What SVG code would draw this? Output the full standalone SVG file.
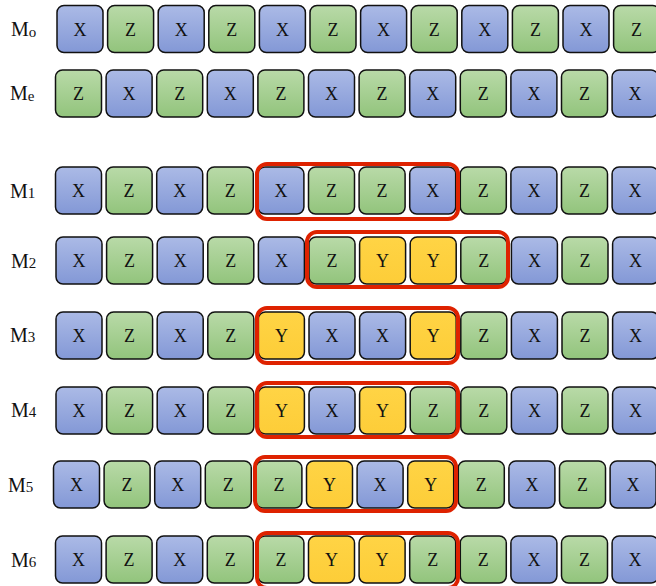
<svg xmlns="http://www.w3.org/2000/svg" width="656" height="586" viewBox="0 0 656 586" font-family="'Liberation Serif', 'Times New Roman', serif">
<defs>
<linearGradient id="gX" x1="0" y1="0" x2="0" y2="1"><stop offset="0" stop-color="#abbae6"/><stop offset="1" stop-color="#8398d6"/></linearGradient>
<linearGradient id="gZ" x1="0" y1="0" x2="0" y2="1"><stop offset="0" stop-color="#b9daa8"/><stop offset="1" stop-color="#92c47c"/></linearGradient>
<linearGradient id="gY" x1="0" y1="0" x2="0" y2="1"><stop offset="0" stop-color="#ffd445"/><stop offset="1" stop-color="#fdcd38"/></linearGradient>
<style>
text{font-family:'Liberation Serif','Times New Roman',serif;fill:#111}
.c rect{stroke:#111;stroke-width:1.5}
.X rect{fill:url(#gX)}
.Z rect{fill:url(#gZ)}
.Y rect{fill:url(#gY)}
.c text{font-size:18px;text-anchor:middle}
.lbl{font-size:20px}
.lbl tspan{font-size:15px}
.hl{fill:none;stroke:#de2200;stroke-width:4}
</style>
</defs>
<rect width="656" height="586" fill="#fff"/>
<g id="labels">
<text class="lbl" x="11" y="36">M<tspan dy="1">o</tspan></text>
<text class="lbl" x="10" y="100">M<tspan dy="1">e</tspan></text>
<text class="lbl" x="10" y="198">M<tspan>1</tspan></text>
<text class="lbl" x="11" y="268">M<tspan>2</tspan></text>
<text class="lbl" x="10" y="342">M<tspan>3</tspan></text>
<text class="lbl" x="11" y="417">M<tspan>4</tspan></text>
<text class="lbl" x="8" y="492">M<tspan>5</tspan></text>
<text class="lbl" x="11" y="567">M<tspan>6</tspan></text>
</g>
<g id="row-Mo" transform="translate(57,5.5)">
<g id="mo1" class="c X" transform="translate(0,0)"><rect width="46" height="47" rx="7"/><text x="23" y="30">X</text></g>
<g id="mo2" class="c Z" transform="translate(50.6,0)"><rect width="46" height="47" rx="7"/><text x="23" y="30">Z</text></g>
<g id="mo3" class="c X" transform="translate(101.2,0)"><rect width="46" height="47" rx="7"/><text x="23" y="30">X</text></g>
<g id="mo4" class="c Z" transform="translate(151.8,0)"><rect width="46" height="47" rx="7"/><text x="23" y="30">Z</text></g>
<g id="mo5" class="c X" transform="translate(202.4,0)"><rect width="46" height="47" rx="7"/><text x="23" y="30">X</text></g>
<g id="mo6" class="c Z" transform="translate(253,0)"><rect width="46" height="47" rx="7"/><text x="23" y="30">Z</text></g>
<g id="mo7" class="c X" transform="translate(303.6,0)"><rect width="46" height="47" rx="7"/><text x="23" y="30">X</text></g>
<g id="mo8" class="c Z" transform="translate(354.2,0)"><rect width="46" height="47" rx="7"/><text x="23" y="30">Z</text></g>
<g id="mo9" class="c X" transform="translate(404.8,0)"><rect width="46" height="47" rx="7"/><text x="23" y="30">X</text></g>
<g id="mo10" class="c Z" transform="translate(455.4,0)"><rect width="46" height="47" rx="7"/><text x="23" y="30">Z</text></g>
<g id="mo11" class="c X" transform="translate(506,0)"><rect width="46" height="47" rx="7"/><text x="23" y="30">X</text></g>
<g id="mo12" class="c Z" transform="translate(556.6,0)"><rect width="46" height="47" rx="7"/><text x="23" y="30">Z</text></g>
</g>
<g id="row-Me" transform="translate(55.5,70)">
<g id="me1" class="c Z" transform="translate(0,0)"><rect width="46" height="47" rx="7"/><text x="23" y="30">Z</text></g>
<g id="me2" class="c X" transform="translate(50.6,0)"><rect width="46" height="47" rx="7"/><text x="23" y="30">X</text></g>
<g id="me3" class="c Z" transform="translate(101.2,0)"><rect width="46" height="47" rx="7"/><text x="23" y="30">Z</text></g>
<g id="me4" class="c X" transform="translate(151.8,0)"><rect width="46" height="47" rx="7"/><text x="23" y="30">X</text></g>
<g id="me5" class="c Z" transform="translate(202.4,0)"><rect width="46" height="47" rx="7"/><text x="23" y="30">Z</text></g>
<g id="me6" class="c X" transform="translate(253,0)"><rect width="46" height="47" rx="7"/><text x="23" y="30">X</text></g>
<g id="me7" class="c Z" transform="translate(303.6,0)"><rect width="46" height="47" rx="7"/><text x="23" y="30">Z</text></g>
<g id="me8" class="c X" transform="translate(354.2,0)"><rect width="46" height="47" rx="7"/><text x="23" y="30">X</text></g>
<g id="me9" class="c Z" transform="translate(404.8,0)"><rect width="46" height="47" rx="7"/><text x="23" y="30">Z</text></g>
<g id="me10" class="c X" transform="translate(455.4,0)"><rect width="46" height="47" rx="7"/><text x="23" y="30">X</text></g>
<g id="me11" class="c Z" transform="translate(506,0)"><rect width="46" height="47" rx="7"/><text x="23" y="30">Z</text></g>
<g id="me12" class="c X" transform="translate(556.6,0)"><rect width="46" height="47" rx="7"/><text x="23" y="30">X</text></g>
</g>
<g id="row-M1" transform="translate(55.5,167)">
<g id="m1c1" class="c X" transform="translate(0,0)"><rect width="46" height="47" rx="7"/><text x="23" y="30">X</text></g>
<g id="m1c2" class="c Z" transform="translate(50.6,0)"><rect width="46" height="47" rx="7"/><text x="23" y="30">Z</text></g>
<g id="m1c3" class="c X" transform="translate(101.2,0)"><rect width="46" height="47" rx="7"/><text x="23" y="30">X</text></g>
<g id="m1c4" class="c Z" transform="translate(151.8,0)"><rect width="46" height="47" rx="7"/><text x="23" y="30">Z</text></g>
<g id="m1c5" class="c X" transform="translate(202.4,0)"><rect width="46" height="47" rx="7"/><text x="23" y="30">X</text></g>
<g id="m1c6" class="c Z" transform="translate(253,0)"><rect width="46" height="47" rx="7"/><text x="23" y="30">Z</text></g>
<g id="m1c7" class="c Z" transform="translate(303.6,0)"><rect width="46" height="47" rx="7"/><text x="23" y="30">Z</text></g>
<g id="m1c8" class="c X" transform="translate(354.2,0)"><rect width="46" height="47" rx="7"/><text x="23" y="30">X</text></g>
<g id="m1c9" class="c Z" transform="translate(404.8,0)"><rect width="46" height="47" rx="7"/><text x="23" y="30">Z</text></g>
<g id="m1c10" class="c X" transform="translate(455.4,0)"><rect width="46" height="47" rx="7"/><text x="23" y="30">X</text></g>
<g id="m1c11" class="c Z" transform="translate(506,0)"><rect width="46" height="47" rx="7"/><text x="23" y="30">Z</text></g>
<g id="m1c12" class="c X" transform="translate(556.6,0)"><rect width="46" height="47" rx="7"/><text x="23" y="30">X</text></g>
</g>
<g id="row-M2" transform="translate(56,237)">
<g id="m2c1" class="c X" transform="translate(0,0)"><rect width="46" height="47" rx="7"/><text x="23" y="30">X</text></g>
<g id="m2c2" class="c Z" transform="translate(50.6,0)"><rect width="46" height="47" rx="7"/><text x="23" y="30">Z</text></g>
<g id="m2c3" class="c X" transform="translate(101.2,0)"><rect width="46" height="47" rx="7"/><text x="23" y="30">X</text></g>
<g id="m2c4" class="c Z" transform="translate(151.8,0)"><rect width="46" height="47" rx="7"/><text x="23" y="30">Z</text></g>
<g id="m2c5" class="c X" transform="translate(202.4,0)"><rect width="46" height="47" rx="7"/><text x="23" y="30">X</text></g>
<g id="m2c6" class="c Z" transform="translate(253,0)"><rect width="46" height="47" rx="7"/><text x="23" y="30">Z</text></g>
<g id="m2c7" class="c Y" transform="translate(303.6,0)"><rect width="46" height="47" rx="7"/><text x="23" y="30">Y</text></g>
<g id="m2c8" class="c Y" transform="translate(354.2,0)"><rect width="46" height="47" rx="7"/><text x="23" y="30">Y</text></g>
<g id="m2c9" class="c Z" transform="translate(404.8,0)"><rect width="46" height="47" rx="7"/><text x="23" y="30">Z</text></g>
<g id="m2c10" class="c X" transform="translate(455.4,0)"><rect width="46" height="47" rx="7"/><text x="23" y="30">X</text></g>
<g id="m2c11" class="c Z" transform="translate(506,0)"><rect width="46" height="47" rx="7"/><text x="23" y="30">Z</text></g>
<g id="m2c12" class="c X" transform="translate(556.6,0)"><rect width="46" height="47" rx="7"/><text x="23" y="30">X</text></g>
</g>
<g id="row-M3" transform="translate(56,312)">
<g id="m3c1" class="c X" transform="translate(0,0)"><rect width="46" height="47" rx="7"/><text x="23" y="30">X</text></g>
<g id="m3c2" class="c Z" transform="translate(50.6,0)"><rect width="46" height="47" rx="7"/><text x="23" y="30">Z</text></g>
<g id="m3c3" class="c X" transform="translate(101.2,0)"><rect width="46" height="47" rx="7"/><text x="23" y="30">X</text></g>
<g id="m3c4" class="c Z" transform="translate(151.8,0)"><rect width="46" height="47" rx="7"/><text x="23" y="30">Z</text></g>
<g id="m3c5" class="c Y" transform="translate(202.4,0)"><rect width="46" height="47" rx="7"/><text x="23" y="30">Y</text></g>
<g id="m3c6" class="c X" transform="translate(253,0)"><rect width="46" height="47" rx="7"/><text x="23" y="30">X</text></g>
<g id="m3c7" class="c X" transform="translate(303.6,0)"><rect width="46" height="47" rx="7"/><text x="23" y="30">X</text></g>
<g id="m3c8" class="c Y" transform="translate(354.2,0)"><rect width="46" height="47" rx="7"/><text x="23" y="30">Y</text></g>
<g id="m3c9" class="c Z" transform="translate(404.8,0)"><rect width="46" height="47" rx="7"/><text x="23" y="30">Z</text></g>
<g id="m3c10" class="c X" transform="translate(455.4,0)"><rect width="46" height="47" rx="7"/><text x="23" y="30">X</text></g>
<g id="m3c11" class="c Z" transform="translate(506,0)"><rect width="46" height="47" rx="7"/><text x="23" y="30">Z</text></g>
<g id="m3c12" class="c X" transform="translate(556.6,0)"><rect width="46" height="47" rx="7"/><text x="23" y="30">X</text></g>
</g>
<g id="row-M4" transform="translate(56,387)">
<g id="m4c1" class="c X" transform="translate(0,0)"><rect width="46" height="47" rx="7"/><text x="23" y="30">X</text></g>
<g id="m4c2" class="c Z" transform="translate(50.6,0)"><rect width="46" height="47" rx="7"/><text x="23" y="30">Z</text></g>
<g id="m4c3" class="c X" transform="translate(101.2,0)"><rect width="46" height="47" rx="7"/><text x="23" y="30">X</text></g>
<g id="m4c4" class="c Z" transform="translate(151.8,0)"><rect width="46" height="47" rx="7"/><text x="23" y="30">Z</text></g>
<g id="m4c5" class="c Y" transform="translate(202.4,0)"><rect width="46" height="47" rx="7"/><text x="23" y="30">Y</text></g>
<g id="m4c6" class="c X" transform="translate(253,0)"><rect width="46" height="47" rx="7"/><text x="23" y="30">X</text></g>
<g id="m4c7" class="c Y" transform="translate(303.6,0)"><rect width="46" height="47" rx="7"/><text x="23" y="30">Y</text></g>
<g id="m4c8" class="c Z" transform="translate(354.2,0)"><rect width="46" height="47" rx="7"/><text x="23" y="30">Z</text></g>
<g id="m4c9" class="c Z" transform="translate(404.8,0)"><rect width="46" height="47" rx="7"/><text x="23" y="30">Z</text></g>
<g id="m4c10" class="c X" transform="translate(455.4,0)"><rect width="46" height="47" rx="7"/><text x="23" y="30">X</text></g>
<g id="m4c11" class="c Z" transform="translate(506,0)"><rect width="46" height="47" rx="7"/><text x="23" y="30">Z</text></g>
<g id="m4c12" class="c X" transform="translate(556.6,0)"><rect width="46" height="47" rx="7"/><text x="23" y="30">X</text></g>
</g>
<g id="row-M5" transform="translate(53.5,461)">
<g id="m5c1" class="c X" transform="translate(0,0)"><rect width="46" height="47" rx="7"/><text x="23" y="30">X</text></g>
<g id="m5c2" class="c Z" transform="translate(50.6,0)"><rect width="46" height="47" rx="7"/><text x="23" y="30">Z</text></g>
<g id="m5c3" class="c X" transform="translate(101.2,0)"><rect width="46" height="47" rx="7"/><text x="23" y="30">X</text></g>
<g id="m5c4" class="c Z" transform="translate(151.8,0)"><rect width="46" height="47" rx="7"/><text x="23" y="30">Z</text></g>
<g id="m5c5" class="c Z" transform="translate(202.4,0)"><rect width="46" height="47" rx="7"/><text x="23" y="30">Z</text></g>
<g id="m5c6" class="c Y" transform="translate(253,0)"><rect width="46" height="47" rx="7"/><text x="23" y="30">Y</text></g>
<g id="m5c7" class="c X" transform="translate(303.6,0)"><rect width="46" height="47" rx="7"/><text x="23" y="30">X</text></g>
<g id="m5c8" class="c Y" transform="translate(354.2,0)"><rect width="46" height="47" rx="7"/><text x="23" y="30">Y</text></g>
<g id="m5c9" class="c Z" transform="translate(404.8,0)"><rect width="46" height="47" rx="7"/><text x="23" y="30">Z</text></g>
<g id="m5c10" class="c X" transform="translate(455.4,0)"><rect width="46" height="47" rx="7"/><text x="23" y="30">X</text></g>
<g id="m5c11" class="c Z" transform="translate(506,0)"><rect width="46" height="47" rx="7"/><text x="23" y="30">Z</text></g>
<g id="m5c12" class="c X" transform="translate(556.6,0)"><rect width="46" height="47" rx="7"/><text x="23" y="30">X</text></g>
</g>
<g id="row-M6" transform="translate(55.5,536)">
<g id="m6c1" class="c X" transform="translate(0,0)"><rect width="46" height="47" rx="7"/><text x="23" y="30">X</text></g>
<g id="m6c2" class="c Z" transform="translate(50.6,0)"><rect width="46" height="47" rx="7"/><text x="23" y="30">Z</text></g>
<g id="m6c3" class="c X" transform="translate(101.2,0)"><rect width="46" height="47" rx="7"/><text x="23" y="30">X</text></g>
<g id="m6c4" class="c Z" transform="translate(151.8,0)"><rect width="46" height="47" rx="7"/><text x="23" y="30">Z</text></g>
<g id="m6c5" class="c Z" transform="translate(202.4,0)"><rect width="46" height="47" rx="7"/><text x="23" y="30">Z</text></g>
<g id="m6c6" class="c Y" transform="translate(253,0)"><rect width="46" height="47" rx="7"/><text x="23" y="30">Y</text></g>
<g id="m6c7" class="c Y" transform="translate(303.6,0)"><rect width="46" height="47" rx="7"/><text x="23" y="30">Y</text></g>
<g id="m6c8" class="c Z" transform="translate(354.2,0)"><rect width="46" height="47" rx="7"/><text x="23" y="30">Z</text></g>
<g id="m6c9" class="c Z" transform="translate(404.8,0)"><rect width="46" height="47" rx="7"/><text x="23" y="30">Z</text></g>
<g id="m6c10" class="c X" transform="translate(455.4,0)"><rect width="46" height="47" rx="7"/><text x="23" y="30">X</text></g>
<g id="m6c11" class="c Z" transform="translate(506,0)"><rect width="46" height="47" rx="7"/><text x="23" y="30">Z</text></g>
<g id="m6c12" class="c X" transform="translate(556.6,0)"><rect width="46" height="47" rx="7"/><text x="23" y="30">X</text></g>
</g>
<g id="highlights">
<rect id="hl-M1" class="hl" x="257" y="164" width="201" height="55" rx="10"/>
<rect id="hl-M2" class="hl" x="307" y="232" width="201" height="55" rx="10"/>
<rect id="hl-M3" class="hl" x="257" y="308" width="201" height="55" rx="10"/>
<rect id="hl-M4" class="hl" x="257" y="383" width="201" height="54" rx="10"/>
<rect id="hl-M5" class="hl" x="255" y="457" width="201" height="54" rx="10"/>
<rect id="hl-M6" class="hl" x="257" y="533" width="201" height="55" rx="10"/>
</g>
</svg>
